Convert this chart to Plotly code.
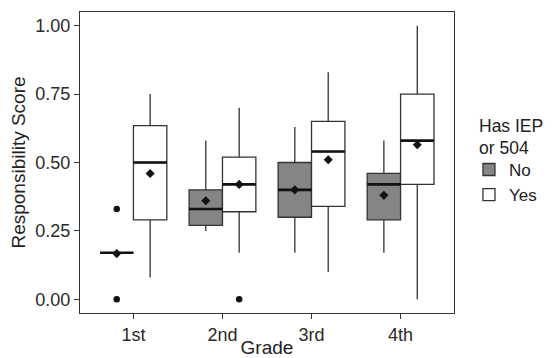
import plotly.graph_objects as go

grades = ["1st", "2nd", "3rd", "4th"]
groups = ["No", "Yes"]
legend_title = ["Has IEP", "or 504"]

# box statistics per group (order of grades)
q1 = {"No": [0.17, 0.27, 0.30, 0.29], "Yes": [0.29, 0.32, 0.34, 0.42]}
median = {"No": [0.17, 0.33, 0.40, 0.42], "Yes": [0.50, 0.42, 0.54, 0.58]}
q3 = {"No": [0.17, 0.40, 0.50, 0.46], "Yes": [0.635, 0.52, 0.65, 0.75]}
lower = {"No": [0.17, 0.25, 0.17, 0.17], "Yes": [0.08, 0.17, 0.10, 0.00]}
upper = {"No": [0.17, 0.58, 0.63, 0.58], "Yes": [0.75, 0.70, 0.83, 1.00]}
means = {"No": [0.167, 0.36, 0.40, 0.38], "Yes": [0.46, 0.42, 0.51, 0.565]}
outliers = {"No": [[0.33, 0.0], [], [], []], "Yes": [[], [0.0], [], []]}

fills = {"No": "#858585", "Yes": "#ffffff"}
dodge = 0.75
bw = dodge / 2
offsets = {"No": -bw / 2, "Yes": bw / 2}
FONT = "Liberation Sans, Arial, Helvetica"

fig = go.Figure()
for g in groups:
    xs = [i + 1 + offsets[g] for i in range(len(grades))]
    fig.add_trace(go.Box(
        x=xs, q1=q1[g], median=median[g], q3=q3[g],
        lowerfence=lower[g], upperfence=upper[g],
        width=bw, whiskerwidth=0, name=g,
        fillcolor=fills[g], line=dict(color="#333333", width=1.3),
        boxpoints=False, showlegend=True,
    ))
for g in groups:
    xs = [i + 1 + offsets[g] for i in range(len(grades))]
    # thick median segments
    mx, my = [], []
    for x, m in zip(xs, median[g]):
        mx += [x - bw / 2, x + bw / 2, None]
        my += [m, m, None]
    fig.add_trace(go.Scatter(x=mx, y=my, mode="lines",
                             line=dict(color="#111111", width=2.6),
                             showlegend=False, hoverinfo="skip"))
    # outliers
    ox, oy = [], []
    for x, outs in zip(xs, outliers[g]):
        for o in outs:
            ox.append(x)
            oy.append(o)
    fig.add_trace(go.Scatter(x=ox, y=oy, mode="markers",
                             marker=dict(color="#111111", size=6.5, symbol="circle"),
                             showlegend=False, hoverinfo="skip"))
    # means
    fig.add_trace(go.Scatter(x=xs, y=means[g], mode="markers",
                             marker=dict(color="#111111", size=7, symbol="diamond"),
                             showlegend=False, hoverinfo="skip"))

axis_common = dict(showline=True, linecolor="#333333", linewidth=1.2, mirror=True,
                   ticks="outside", ticklen=5, tickcolor="#333333", tickwidth=1.1,
                   showgrid=False, zeroline=False, automargin=False,
                   tickfont=dict(size=18, color="#2a2a2a", family=FONT))

for k, line in enumerate(legend_title):
    fig.add_annotation(text=line, xref="paper", yref="paper",
                       x=1.064, y=0.62 - k * 0.072, xanchor="left", yanchor="middle",
                       showarrow=False, borderpad=0,
                       font=dict(size=17.5, color="#222222", family=FONT))

fig.update_layout(
    width=554, height=358,
    margin=dict(l=80, r=94, t=12, b=45),
    paper_bgcolor="white", plot_bgcolor="white",
    font=dict(family=FONT, color="#222222"),
    boxmode="overlay",
    xaxis=dict(range=[0.4, 4.6], tickvals=[1, 2, 3, 4], ticktext=grades,
               title=dict(text="Grade", font=dict(size=19), standoff=0), **axis_common),
    yaxis=dict(range=[-0.05, 1.05], tickvals=[0, 0.25, 0.5, 0.75, 1.0],
               ticktext=["0.00", "0.25", "0.50", "0.75", "1.00"],
               title=dict(text="Responsibility Score", font=dict(size=19), standoff=4),
               **axis_common),
    legend=dict(font=dict(size=17), x=1.04, xanchor="left", y=0.535, yanchor="top",
                bgcolor="rgba(0,0,0,0)", tracegroupgap=0, itemwidth=30),
)

fig.write_html("out.html", config={"displayModeBar": False},
               post_script="document.body.style.margin='0';")
